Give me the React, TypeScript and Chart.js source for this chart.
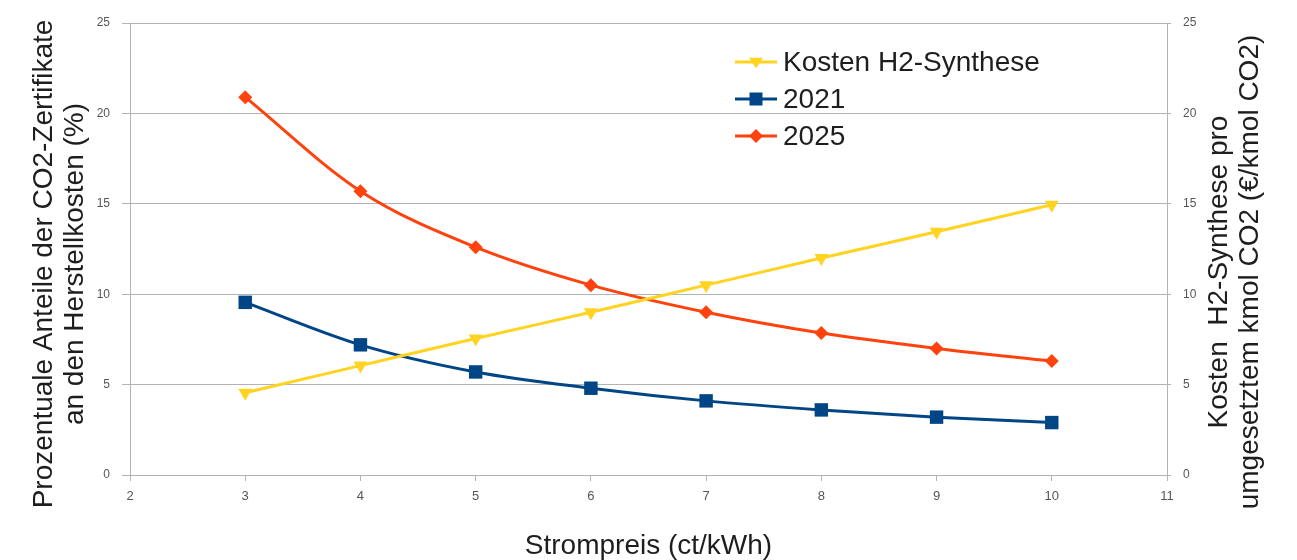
import React, { useEffect, useRef } from 'react';
import { Chart, registerables } from 'chart.js';

Chart.register(...registerables);

const strompreis = [3, 4, 5, 6, 7, 8, 9, 10];
const kostenH2 = [4.55, 6.05, 7.55, 9.0, 10.5, 12.0, 13.45, 14.95];
const anteil2021 = [9.55, 7.2, 5.7, 4.8, 4.1, 3.6, 3.2, 2.9];
const anteil2025 = [20.9, 15.7, 12.6, 10.5, 9.0, 7.85, 7.0, 6.3];
const seriesNames = ['Kosten H2-Synthese', '2021', '2025'];
const seriesColors = ['#ffd320', '#004586', '#ff420e'];
const xTitle = 'Strompreis (ct/kWh)';
const leftTitle = ['Prozentuale Anteile der CO2-Zertifikate', 'an den Herstellkosten (%)'];
const rightTitle = ['Kosten  H2-Synthese pro', 'umgesetztem kmol CO2 (€/kmol CO2)'];

const FONT = "'Liberation Sans', Arial, sans-serif";
const GRID = '#b3b3b3';
const TICK = '#555555';
const TEXT = '#1e1e1e';

function drawMarker(ctx: CanvasRenderingContext2D, kind: number, x: number, y: number, color: string) {
  ctx.save();
  ctx.fillStyle = color;
  ctx.beginPath();
  if (kind === 0) {
    const r = 7;
    ctx.moveTo(x - r, y - r * 0.6);
    ctx.lineTo(x + r, y - r * 0.6);
    ctx.lineTo(x, y + r * 0.9);
    ctx.closePath();
  } else if (kind === 1) {
    const s = 6.5;
    ctx.rect(x - s, y - s, 2 * s, 2 * s);
  } else {
    const r = 7;
    ctx.moveTo(x, y - r);
    ctx.lineTo(x + r, y);
    ctx.lineTo(x, y + r);
    ctx.lineTo(x - r, y);
    ctx.closePath();
  }
  ctx.fill();
  ctx.restore();
}

const decorPlugin = {
  id: 'decor',
  afterDraw(chart: any) {
    const ctx: CanvasRenderingContext2D = chart.ctx;
    const area = chart.chartArea;
    ctx.save();
    ctx.fillStyle = TEXT;
    ctx.font = `28px ${FONT}`;
    ctx.textAlign = 'center';
    ctx.textBaseline = 'middle';

    // x title
    ctx.fillText(xTitle, (area.left + area.right) / 2, 546);

    // left title
    ctx.save();
    ctx.translate(44, 264);
    ctx.rotate(-Math.PI / 2);
    ctx.fillText(leftTitle[0], 0, 0);
    ctx.fillText(leftTitle[1], 0, 31);
    ctx.restore();

    // right title (reads bottom to top)
    ctx.save();
    ctx.translate(1219, 272);
    ctx.rotate(-Math.PI / 2);
    ctx.fillText(rightTitle[0], 0, 0);
    ctx.fillText(rightTitle[1], 0, 31);
    ctx.restore();

    // legend
    const rows = [62, 99, 136];
    ctx.textAlign = 'left';
    seriesNames.forEach((name, i) => {
      const y = rows[i];
      ctx.save();
      ctx.strokeStyle = seriesColors[i];
      ctx.lineWidth = 3;
      ctx.beginPath();
      ctx.moveTo(735, y);
      ctx.lineTo(777, y);
      ctx.stroke();
      ctx.restore();
      drawMarker(ctx, i, 756, y, seriesColors[i]);
      ctx.fillStyle = TEXT;
      ctx.fillText(name, 783, y + 1);
    });
    ctx.restore();
  },
};

export default function App() {
  const ref = useRef<HTMLCanvasElement | null>(null);

  useEffect(() => {
    if (!ref.current) return;
    const mk = (vals: number[]) => strompreis.map((x, i) => ({ x, y: vals[i] }));
    const chart = new Chart(ref.current, {
      type: 'line',
      data: {
        datasets: [
          {
            label: seriesNames[0],
            data: mk(kostenH2),
            yAxisID: 'y1',
            borderColor: seriesColors[0],
            backgroundColor: seriesColors[0],
            borderWidth: 3,
            pointStyle: 'triangle',
            rotation: 180,
            pointRadius: 8,
            pointBorderWidth: 0,
            cubicInterpolationMode: 'monotone',
          },
          {
            label: seriesNames[1],
            data: mk(anteil2021),
            yAxisID: 'y',
            borderColor: seriesColors[1],
            backgroundColor: seriesColors[1],
            borderWidth: 3,
            pointStyle: 'rect',
            pointRadius: 9.5,
            pointBorderWidth: 0,
            cubicInterpolationMode: 'monotone',
          },
          {
            label: seriesNames[2],
            data: mk(anteil2025),
            yAxisID: 'y',
            borderColor: seriesColors[2],
            backgroundColor: seriesColors[2],
            borderWidth: 3,
            pointStyle: 'rectRot',
            pointRadius: 7,
            pointBorderWidth: 0,
            cubicInterpolationMode: 'monotone',
          },
        ],
      },
      options: {
        animation: false,
        responsive: false,
        layout: { padding: { top: 23, left: 0, right: 0, bottom: 0 } },
        plugins: { legend: { display: false }, tooltip: { enabled: false } },
        scales: {
          x: {
            type: 'linear',
            min: 2,
            max: 11,
            ticks: { stepSize: 1, color: TICK, font: { family: FONT, size: 13 }, padding: 8 },
            grid: { drawOnChartArea: false, color: GRID, tickLength: 6 },
            border: { color: GRID },
            afterFit: (s: any) => { s.height = 85; },
          },
          y: {
            position: 'left',
            min: 0,
            max: 25,
            ticks: { stepSize: 5, color: TICK, font: { family: FONT, size: 12 }, padding: 12 },
            grid: { color: GRID, tickLength: 8 },
            border: { color: GRID },
            afterFit: (s: any) => { s.width = 130; },
          },
          y1: {
            position: 'right',
            min: 0,
            max: 25,
            ticks: { stepSize: 5, color: TICK, font: { family: FONT, size: 12 }, padding: 12 },
            grid: { drawOnChartArea: false, color: GRID, tickLength: 4 },
            border: { color: GRID },
            afterFit: (s: any) => { s.width = 130; },
          },
        },
      },
      plugins: [decorPlugin],
    } as any);
    return () => chart.destroy();
  }, []);

  return (
    <div style={{ position: 'absolute', left: 0, top: 0, width: 1297, height: 560, background: '#fff' }}>
      <canvas ref={ref} width={1297} height={560} style={{ display: 'block' }} />
    </div>
  );
}
